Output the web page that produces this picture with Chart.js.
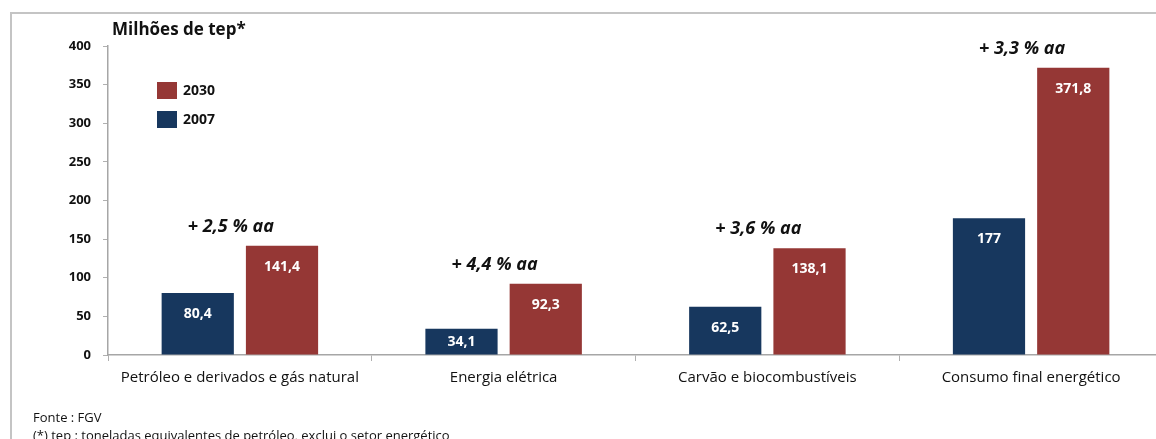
<!DOCTYPE html>
<html>
<head>
<meta charset="utf-8">
<script src="https://cdn.jsdelivr.net/npm/chart.js@4.4.1/dist/chart.umd.min.js"></script>
<style>
  html, body { margin: 0; padding: 0; background: #fff; overflow: hidden; }
  #wrap { position: relative; width: 1156px; height: 439px; overflow: hidden; }
</style>
</head>
<body>
<div id="wrap"><canvas id="barChart" width="1163" height="439"></canvas></div>
<script>
var categorias = ['Petróleo e derivados e gás natural', 'Energia elétrica', 'Carvão e biocombustíveis', 'Consumo final energético'];
var valores2007 = [80.4, 34.1, 62.5, 177];
var valores2030 = [141.4, 92.3, 138.1, 371.8];
var crescimento = ['+ 2,5 % aa', '+ 4,4 % aa', '+ 3,6 % aa', '+ 3,3 % aa'];
var yTicks = [0, 50, 100, 150, 200, 250, 300, 350, 400];

var azul = '#17375e';
var vermelho = '#953735';
var fonte = '"Open Sans", "Noto Sans", sans-serif';

function numBR(v) {
  return String(v).replace('.', ',');
}

// moldura, titulo, legenda, rotulos e notas de rodape
var extras = {
  id: 'extras',
  afterDatasetsDraw: function (chart) {
    var ctx = chart.ctx;
    var xs = chart.scales.x;

    ctx.save();
    // moldura
    ctx.strokeStyle = '#c4c4c4';
    ctx.lineWidth = 2;
    ctx.beginPath();
    ctx.moveTo(11, 439);
    ctx.lineTo(11, 13);
    ctx.lineTo(1163, 13);
    ctx.stroke();

    // titulo do eixo
    ctx.fillStyle = '#111';
    ctx.font = 'bold 17px ' + fonte;
    ctx.textAlign = 'left';
    ctx.textBaseline = 'middle';
    ctx.fillText('Milhões de tep*', 112, 30);

    // legenda (2030 em cima)
    var leg = [[vermelho, '2030', 90], [azul, '2007', 119]];
    leg.forEach(function (l) {
      ctx.fillStyle = l[0];
      ctx.fillRect(157, l[2] - 8, 20, 17);
      ctx.fillStyle = '#111';
      ctx.font = 'bold 14px ' + fonte;
      ctx.fillText(l[1], 183, l[2] + 1);
    });

    // valores dentro das barras
    ctx.textAlign = 'center';
    ctx.font = 'bold 14px ' + fonte;
    ctx.fillStyle = '#fff';
    [0, 1].forEach(function (di) {
      var meta = chart.getDatasetMeta(di);
      var dados = chart.data.datasets[di].data;
      meta.data.forEach(function (bar, i) {
        var meio = (bar.y + bar.base) / 2;
        var y = Math.min(bar.y + 21, meio);
        ctx.fillText(numBR(dados[i]), bar.x, y);
      });
    });

    // taxa de crescimento acima de cada grupo
    ctx.fillStyle = '#111';
    ctx.font = 'italic bold 18px ' + fonte;
    var meta30 = chart.getDatasetMeta(1);
    crescimento.forEach(function (t, i) {
      var cx = xs.getPixelForValue(i) - 9;
      var topo = meta30.data[i].y;
      ctx.fillText(t, cx, topo - 19);
    });

    // notas
    ctx.textAlign = 'left';
    ctx.font = '13px ' + fonte;
    ctx.fillText('Fonte : FGV', 33, 418);
    ctx.fillText('(*) tep : toneladas equivalentes de petróleo, exclui o setor energético', 33, 436);
    ctx.restore();
  }
};

var ctx = document.getElementById('barChart').getContext('2d');
new Chart(ctx, {
  type: 'bar',
  data: {
    labels: categorias,
    datasets: [
      { label: '2007', data: valores2007, backgroundColor: azul },
      { label: '2030', data: valores2030, backgroundColor: vermelho }
    ]
  },
  options: {
    responsive: false,
    animation: false,
    datasets: {
      bar: { categoryPercentage: 0.639, barPercentage: 0.857 }
    },
    layout: { padding: { left: 12, right: 0, top: 46, bottom: 45 } },
    plugins: {
      legend: { display: false },
      tooltip: { enabled: false }
    },
    scales: {
      x: {
        offset: true,
        grid: { display: true, drawOnChartArea: false, offset: true, color: '#b0b0b0', tickLength: 6 },
        border: { color: '#a6a6a6', width: 1.5 },
        ticks: { color: '#111', font: { family: fonte, size: 15 }, padding: 8, maxRotation: 0 },
        afterFit: function (s) { s.height = 39; }
      },
      y: {
        min: 0,
        max: 400,
        afterBuildTicks: function (s) { s.ticks = yTicks.map(function (v) { return { value: v }; }); },
        grid: { display: true, drawOnChartArea: false, color: '#b0b0b0', tickLength: 5 },
        border: { color: '#a6a6a6', width: 1.5 },
        ticks: { color: '#111', font: { family: fonte, size: 13, weight: 'bold' }, padding: 12 },
        afterFit: function (s) { s.width = 96; }
      }
    }
  },
  plugins: [extras]
});
</script>
</body>
</html>
